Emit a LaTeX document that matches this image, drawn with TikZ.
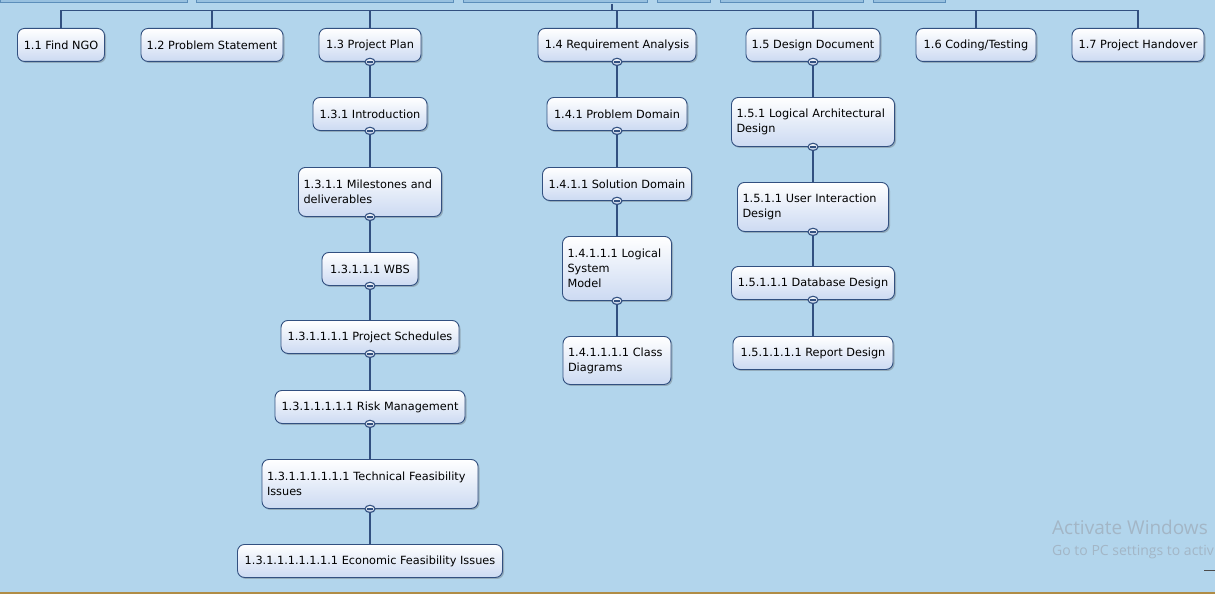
\documentclass[tikz,border=0pt]{standalone}
\usepackage{fontspec}
\setmainfont{DejaVu Sans}
\newfontfamily\winfont{Open Sans}
\usetikzlibrary{shadows}

\definecolor{paper}{RGB}{178,213,236}
\definecolor{wbsline}{RGB}{50,80,128}
\definecolor{boxbot}{RGB}{204,218,242}
\definecolor{strip}{RGB}{152,193,224}
\definecolor{stripline}{RGB}{92,142,186}
\definecolor{winmark}{RGB}{163,182,198}
\definecolor{taskbar}{RGB}{176,140,70}

\tikzset{
  wbs/.style={draw=wbsline, line width=0.9pt, rounded corners=7pt, top color=white, bottom color=boxbot,
    inner xsep=5pt, inner ysep=0pt, minimum height=33pt, anchor=north,
    font=\fontsize{11.3}{15}\selectfont,
    drop shadow={shadow xshift=1.5pt, shadow yshift=-1.5pt, opacity=0.3, fill=black!70}},
  wbs2/.style={wbs, align=left, minimum height=49pt},
  link/.style={draw=wbsline, line width=1.1pt},
  fold/.style={draw=wbsline, line width=1.1pt, top color=white, bottom color=boxbot!80!wbsline},
}

\begin{document}
\begin{tikzpicture}[x=1pt,y=-1pt]
\fill[paper] (0,0) rectangle (1215,594);
\useasboundingbox (0,0) rectangle (1215,594);

% cut-off boxes of the row above
\draw[stripline, fill=strip] (0,-10) rectangle (187,2);
\draw[stripline, fill=strip] (196,-10) rectangle (453,2);
\draw[stripline, fill=strip] (463,-10) rectangle (647,2);
\draw[stripline, fill=strip] (657,-10) rectangle (710,2);
\draw[stripline, fill=strip] (720,-10) rectangle (863,2);
\draw[stripline, fill=strip] (873,-10) rectangle (945,2);

% level 1
\node[wbs, minimum width=87] (n11) at (61,28) {1.1 Find NGO};
\node[wbs, minimum width=142] (n12) at (212,28) {1.2 Problem Statement};
\node[wbs, minimum width=102] (n13) at (370,28) {1.3 Project Plan};
\node[wbs, minimum width=158] (n14) at (617,28) {1.4 Requirement Analysis};
\node[wbs, minimum width=134] (n15) at (813,28) {1.5 Design Document};
\node[wbs, minimum width=120] (n16) at (976,28) {1.6 Coding/Testing};
\node[wbs, minimum width=132] (n17) at (1138,28) {1.7 Project Handover};

% project plan branch
\node[wbs, minimum width=114] (n131) at (370,97) {1.3.1 Introduction};
\node[wbs2, text width=133] (n1311) at (370,167) {1.3.1.1 Milestones and\\deliverables};
\node[wbs, minimum width=96] (n13111) at (370,252) {1.3.1.1.1 WBS};
\node[wbs, minimum width=178] (n131111) at (370,320) {1.3.1.1.1.1 Project Schedules};
\node[wbs, minimum width=190] (n1311111) at (370,390) {1.3.1.1.1.1.1 Risk Management};
\node[wbs2, text width=206] (ntech) at (370,459) {1.3.1.1.1.1.1.1 Technical Feasibility\\Issues};
\node[wbs, minimum width=265] (necon) at (370,544) {1.3.1.1.1.1.1.1.1 Economic Feasibility Issues};

% requirement analysis branch
\node[wbs, minimum width=140] (n141) at (617,97) {1.4.1 Problem Domain};
\node[wbs, minimum width=149] (n1411) at (617,167) {1.4.1.1 Solution Domain};
\node[wbs2, text width=99, minimum height=64] (n14111) at (617,236) {1.4.1.1.1 Logical\\System\\Model};
\node[wbs2, text width=98, minimum height=48] (n141111) at (617,336) {1.4.1.1.1.1 Class\\Diagrams};

% design document branch
\node[wbs2, text width=153] (n151) at (813,97) {1.5.1 Logical Architectural\\Design};
\node[wbs2, text width=141] (n1511) at (813,182) {1.5.1.1 User Interaction\\Design};
\node[wbs, minimum width=163] (n15111) at (813,266) {1.5.1.1.1 Database Design};
\node[wbs, minimum width=160] (n151111) at (813,336) {1.5.1.1.1.1 Report Design};

% bus to level 1
\coordinate (bus) at (0,10.5);
\coordinate (root) at (612,4);
\draw[link] (n11.north) |- (n17.north |- bus) -- (n17.north);
\foreach \n in {n12,n13,n14,n15,n16}
  \draw[link] (\n.north) -- (\n.north |- bus);
\draw[link] (root) -- (root |- bus);

% parent to child
\draw[link] (n13.south) -- (n131.north);
\draw[link] (n131.south) -- (n1311.north);
\draw[link] (n1311.south) -- (n13111.north);
\draw[link] (n13111.south) -- (n131111.north);
\draw[link] (n131111.south) -- (n1311111.north);
\draw[link] (n1311111.south) -- (ntech.north);
\draw[link] (ntech.south) -- (necon.north);
\draw[link] (n14.south) -- (n141.north);
\draw[link] (n141.south) -- (n1411.north);
\draw[link] (n1411.south) -- (n14111.north);
\draw[link] (n14111.south) -- (n141111.north);
\draw[link] (n15.south) -- (n151.north);
\draw[link] (n151.south) -- (n1511.north);
\draw[link] (n1511.south) -- (n15111.north);
\draw[link] (n15111.south) -- (n151111.north);

% collapse marks
\foreach \n in {n13,n131,n1311,n13111,n131111,n1311111,ntech,n14,n141,n1411,n14111,n15,n151,n1511,n15111} {
  \draw[fold] (\n.south) ellipse [x radius=5, y radius=3.6];
  \draw[wbsline, line width=1.3pt] ([xshift=-2.6pt]\n.south) -- ([xshift=2.6pt]\n.south);
}

% screen leftovers
\node[anchor=base west, text=winmark, font=\winfont\fontsize{19}{22}\selectfont, inner sep=0] (act) at (1052,534) {Activate Windows};
\node[anchor=base west, text=winmark, font=\winfont\fontsize{14}{16}\selectfont, inner sep=0] (actsub) at (1052,555) {Go to PC settings to activ};
\draw[black!70, line width=0.8pt] (1204,570) -- (1215,570);
\fill[taskbar] (0,591.5) rectangle (1215,594);
\end{tikzpicture}
\end{document}
